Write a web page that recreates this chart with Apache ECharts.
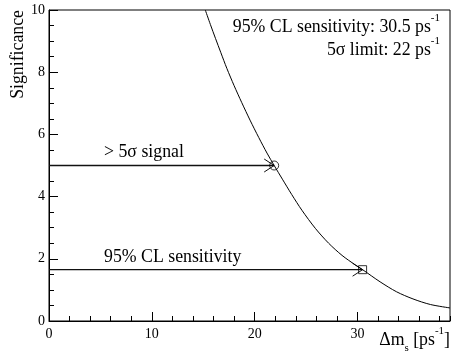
<!DOCTYPE html>
<html>
<head>
<meta charset="utf-8">
<script src="https://cdn.jsdelivr.net/npm/echarts@6/dist/echarts.min.js"></script>
<style>
  html, body { margin: 0; padding: 0; background: #fff; }
  #chart { width: 451px; height: 356px; }
</style>
</head>
<body>
<div id="chart"></div>
<script>
// ── Data ────────────────────────────────────────────────────────────
const deltaMs = [15.2, 15.7, 16.2, 16.7, 17.3, 18.0, 18.75, 19.55, 20.4, 21.2, 21.9, 22.7, 23.6, 24.6,
  25.9, 27.2, 28.5, 29.8, 30.5, 32.2, 33.8, 35.4, 37.1, 39.0];
const significance = [10.0, 9.53, 9.08, 8.64, 8.12, 7.57, 7.02, 6.46, 5.90, 5.40, 5.0, 4.56, 4.07, 3.56,
  2.98, 2.50, 2.11, 1.80, 1.65, 1.26, 0.94, 0.71, 0.53, 0.42];

const limit5Sigma = [21.9, 5.0];      // open circle
const sensitivity95 = [30.5, 1.65];   // open square

// arrows: [x0, y0, x1, y1]
const arrows = [
  [0, 5.0, 21.9, 5.0],
  [0, 1.65, 30.5, 1.65],
];

const SERIF = '"Liberation Serif", "DejaVu Serif", serif';
const TXT = 17.8;

const chart = echarts.init(document.getElementById('chart'), null, { renderer: 'canvas' });

const supStyle = { fontFamily: SERIF, fontSize: 11, color: '#000', verticalAlign: 'top', lineHeight: 11 };
const subStyle = { fontFamily: SERIF, fontSize: 11, color: '#000', verticalAlign: 'bottom', lineHeight: 11 };

function label(x, y, text, align, extra) {
  return Object.assign({
    type: 'text',
    x: x,
    y: y,
    style: {
      text: text,
      fill: '#000',
      font: TXT + 'px ' + SERIF,
      align: align,
      verticalAlign: 'middle',
      lineHeight: 28,
      rich: { sup: supStyle, sub: subStyle },
    },
  }, extra || {});
}

chart.setOption({
  animation: false,
  backgroundColor: '#fff',
  grid: {
    left: 49, right: 1, top: 10, bottom: 35,
    show: true, borderColor: '#000', borderWidth: 1,
  },
  xAxis: [
    {
      type: 'value', min: 0, max: 39, interval: 10,
      axisLine: { lineStyle: { color: '#000', width: 1 } },
      axisTick: { inside: true, length: 9, lineStyle: { color: '#000' } },
      axisLabel: {
        showMaxLabel: false, margin: 6,
        color: '#000', fontFamily: SERIF, fontSize: 14,
      },
      splitLine: { show: false },
    },
    {
      // minor ticks every 2
      type: 'value', min: 0, max: 39, interval: 2, position: 'bottom',
      axisLine: { show: false },
      axisTick: { inside: true, length: 5, lineStyle: { color: '#000' } },
      axisLabel: { show: false },
      splitLine: { show: false },
    },
  ],
  yAxis: {
    type: 'value', min: 0, max: 10, interval: 2,
    axisLine: { show: true, lineStyle: { color: '#000', width: 1 } },
    axisTick: { show: true, inside: true, length: 9, lineStyle: { color: '#000' } },
    minorTick: { show: true, splitNumber: 4, length: 5, lineStyle: { color: '#000' } },
    axisLabel: { margin: 4, color: '#000', fontFamily: SERIF, fontSize: 14 },
    splitLine: { show: false },
  },
  series: [
    {
      type: 'line',
      data: deltaMs.map((x, i) => [x, significance[i]]),
      smooth: 0.3,
      showSymbol: false,
      clip: true,
      lineStyle: { color: '#000', width: 1 },
    },
    {
      type: 'custom',
      data: arrows,
      renderItem: function (params, api) {
        const a = api.coord([api.value(0), api.value(1)]);
        const b = api.coord([api.value(2), api.value(3)]);
        return {
          type: 'group',
          children: [
            { type: 'line', shape: { x1: a[0], y1: a[1], x2: b[0], y2: b[1] }, style: { stroke: '#111', lineWidth: 1.3, fill: null } },
            { type: 'polyline', shape: { points: [[b[0] - 10, b[1] - 6.5], [b[0], b[1]], [b[0] - 10, b[1] + 6.5]] }, style: { stroke: '#111', lineWidth: 1, fill: null } },
          ],
        };
      },
    },
    {
      type: 'scatter',
      data: [limit5Sigma],
      symbol: 'circle', symbolSize: 9,
      itemStyle: { color: 'rgba(0,0,0,0)', borderColor: '#000', borderWidth: 1 },
    },
    {
      type: 'scatter',
      data: [sensitivity95],
      symbol: 'rect', symbolSize: 8,
      itemStyle: { color: 'rgba(0,0,0,0)', borderColor: '#000', borderWidth: 1 },
    },
  ],
  graphic: [
    label(18, 10, 'Significance', 'right', { rotation: Math.PI / 2 }),
    label(450, 340, 'Δm{sub|s} [ps{sup|-1}]', 'right'),
    label(440, 27, '95% CL sensitivity: 30.5 ps{sup|-1}', 'right'),
    label(440, 50, '5σ limit: 22 ps{sup|-1}', 'right'),
    label(104, 152, '> 5σ signal', 'left'),
    label(104, 257, '95% CL sensitivity', 'left'),
  ],
});
</script>
</body>
</html>
